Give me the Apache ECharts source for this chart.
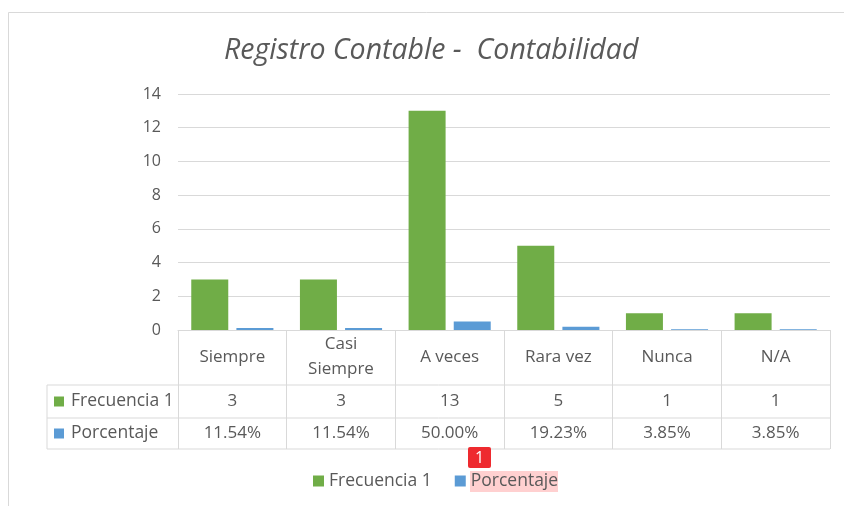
<!DOCTYPE html>
<html>
<head>
<meta charset="utf-8">
<script src="https://cdn.jsdelivr.net/npm/echarts@6/dist/echarts.min.js"></script>
<style>
html,body{margin:0;padding:0;background:#fff;}
#chart{width:844px;height:506px;}
</style>
</head>
<body>
<div id="chart"></div>
<script>
// ---- data ----
var categories = ['Siempre', 'Casi\nSiempre', 'A veces', 'Rara vez', 'Nunca', 'N/A'];
var frecuencia = [3, 3, 13, 5, 1, 1];
var porcentaje = [0.1154, 0.1154, 0.5, 0.1923, 0.0385, 0.0385];
var seriesNames = ['Frecuencia 1', 'Porcentaje'];
var yTicks = [0, 2, 4, 6, 8, 10, 12, 14];

var GREEN = '#70AD47', BLUE = '#5B9BD5', TXT = '#595959', LINE = '#d9d9d9';
var FONT = 'Open Sans';
var FS = 17;

var chart = echarts.init(document.getElementById('chart'), null, {renderer: 'canvas'});

// layout (pixels)
var gridLeft = 178, gridRight = 14, gridTop = 94, gridBottom = 176;
var axisY = 506 - gridBottom; // 330
var row1 = 385, row2 = 418, row3 = 449, tableLeft = 47, tableRight = 844 - gridRight;

function pctLabel(v) { return (v * 100).toFixed(2) + '%'; }

var graphics = [
  {type: 'rect', shape: {x: 8.5, y: 12.5, width: 900, height: 600}, style: {fill: 'none', stroke: LINE, lineWidth: 1}, silent: true, z: -10},
  {type: 'line', shape: {x1: tableLeft, y1: row1, x2: tableRight, y2: row1}, style: {stroke: LINE, lineWidth: 1}},
  {type: 'line', shape: {x1: tableLeft, y1: row2, x2: tableRight, y2: row2}, style: {stroke: LINE, lineWidth: 1}},
  {type: 'line', shape: {x1: tableLeft, y1: row3, x2: tableRight, y2: row3}, style: {stroke: LINE, lineWidth: 1}},
  {type: 'line', shape: {x1: tableLeft, y1: row1, x2: tableLeft, y2: row3}, style: {stroke: LINE, lineWidth: 1}},
  {type: 'rect', shape: {x: 54, y: (row1 + row2) / 2 - 5, width: 10, height: 10}, style: {fill: GREEN}},
  {type: 'text', x: 71, y: (row1 + row2) / 2, style: {text: seriesNames[0], fill: TXT, font: '17.5px "' + FONT + '"', textVerticalAlign: 'middle'}},
  {type: 'rect', shape: {x: 54, y: (row2 + row3) / 2 - 5, width: 10, height: 10}, style: {fill: BLUE}},
  {type: 'text', x: 71, y: (row2 + row3) / 2, style: {text: seriesNames[1], fill: TXT, font: '17.5px "' + FONT + '"', textVerticalAlign: 'middle'}},
  // annotation overlay seen in the reference
  {type: 'rect', shape: {x: 470, y: 471, width: 88, height: 21}, style: {fill: 'rgba(255,120,120,0.35)'}, z: -1},
  {type: 'rect', shape: {x: 468, y: 447, width: 23, height: 21, r: 2}, style: {fill: '#EE2A2F'}, z: 100},
  {type: 'text', x: 479.5, y: 458, style: {text: '1', fill: '#fff', font: '16px "' + FONT + '"', textAlign: 'center', textVerticalAlign: 'middle'}, z: 101}
];

var option = {
  backgroundColor: '#fff',
  animation: false,
  title: {
    text: 'Registro Contable -  Contabilidad',
    left: 219,
    top: 31,
    textStyle: {fontFamily: FONT, fontStyle: 'italic', fontWeight: 'normal', fontSize: 28.5, color: TXT}
  },
  legend: {
    data: seriesNames,
    bottom: 11,
    left: 308,
    icon: 'rect',
    itemWidth: 11,
    itemHeight: 11,
    itemGap: 23,
    textStyle: {fontFamily: FONT, fontSize: 17.5, color: TXT}
  },
  grid: {left: gridLeft, right: gridRight, top: gridTop, bottom: gridBottom, containLabel: false},
  xAxis: [
    {
      type: 'category',
      data: categories,
      axisLine: {show: true, lineStyle: {color: LINE}},
      axisTick: {show: true, length: row3 - axisY, lineStyle: {color: LINE}},
      axisLabel: {fontFamily: FONT, fontSize: FS, color: TXT, margin: 27, verticalAlign: 'middle', lineHeight: 25, interval: 0}
    },
    {
      type: 'category',
      position: 'bottom',
      data: frecuencia.map(String),
      axisLine: {show: false}, axisTick: {show: false},
      axisLabel: {fontFamily: FONT, fontSize: FS, color: TXT, margin: (row1 + row2) / 2 - axisY, verticalAlign: 'middle', interval: 0}
    },
    {
      type: 'category',
      position: 'bottom',
      data: porcentaje.map(pctLabel),
      axisLine: {show: false}, axisTick: {show: false},
      axisLabel: {fontFamily: FONT, fontSize: FS, color: TXT, margin: (row2 + row3) / 2 - axisY, verticalAlign: 'middle', interval: 0}
    }
  ],
  yAxis: {
    type: 'value',
    min: yTicks[0],
    max: yTicks[yTicks.length - 1],
    interval: yTicks[1] - yTicks[0],
    axisLine: {show: false},
    axisTick: {show: false},
    splitLine: {lineStyle: {color: LINE, width: 1}},
    axisLabel: {fontFamily: FONT, fontSize: 16, color: TXT, margin: 17}
  },
  series: [
    {name: seriesNames[0], type: 'bar', data: frecuencia, barWidth: 37, barGap: '22%', itemStyle: {color: GREEN}, xAxisIndex: 0},
    {name: seriesNames[1], type: 'bar', data: porcentaje, barWidth: 37, barGap: '22%', itemStyle: {color: BLUE}, xAxisIndex: 0}
  ],
  graphic: graphics
};
chart.setOption(option);
</script>
</body>
</html>
